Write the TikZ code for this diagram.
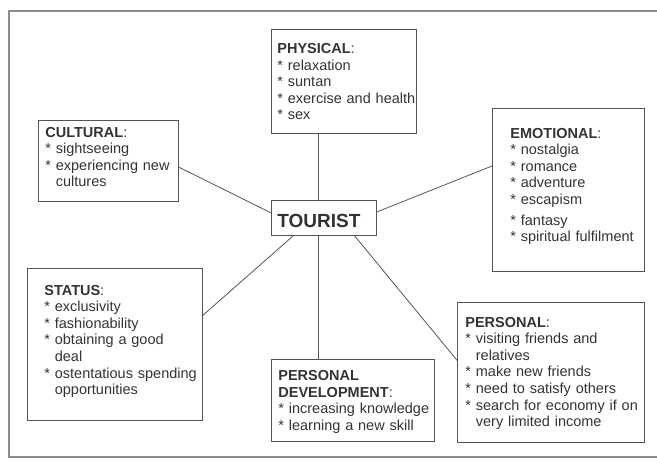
\documentclass[tikz,border=0pt]{standalone}
\usepackage{fontspec}
\setmainfont{Liberation Sans}
\usepackage{xcolor}
\usetikzlibrary{calc}

\definecolor{inkgray}{gray}{0.2}
\definecolor{linegray}{gray}{0.33}
\definecolor{framegray}{gray}{0.55}
\newcommand{\itm}[1]{\mbox{*\ #1}}
\newcommand{\cont}[1]{\mbox{\hphantom{*\ }#1}}

\begin{document}
\begin{tikzpicture}[x=1pt, y=-1pt,
    box/.style={draw=linegray, line width=0.8pt, anchor=north west, inner ysep=0pt, align=left, text=inkgray, font=\fontsize{14.5}{16.6}\selectfont},
    link/.style={draw=linegray, line width=0.8pt}]
    \useasboundingbox (0,0) rectangle (657,461);
    \draw [framegray, line width=1.5pt] (657,11) -| (9,457) -- (657,457);

    \node [box, inner xsep=6pt, text width=93pt, text height=26.7pt, text depth=8.3pt, font=\fontsize{19}{22}\selectfont\bfseries] (tourist) at (271,200) {TOURIST};
    \node [box, inner xsep=6pt, text width=133pt, text height=24pt, text depth=80pt] (phys) at (271,29) {\textbf{PHYSICAL}:\\\itm{relaxation}\\\itm{suntan}\\\itm{exercise and health}\\\itm{sex}};
    \node [box, inner xsep=7pt, text width=126pt, text height=16.7pt, text depth=64.3pt] (cult) at (38,120) {\textbf{CULTURAL}:\\\itm{sightseeing}\\\itm{experiencing new}\\\cont{cultures}};
    \node [box, inner xsep=18pt, text width=116pt, text height=29.7pt, text depth=133.3pt] (emo) at (492,108) {\textbf{EMOTIONAL}:\\\itm{nostalgia}\\\itm{romance}\\\itm{adventure}\\\itm{escapism}\\[4pt]\itm{fantasy}\\\itm{spiritual fulfilment}};
    \node [box, inner xsep=17pt, text width=141pt, text height=26.7pt, text depth=125.3pt] (stat) at (27,268) {\textbf{STATUS}:\\\itm{exclusivity}\\\itm{fashionability}\\\itm{obtaining a good}\\\cont{deal}\\\itm{ostentatious spending}\\\cont{opportunities}};
    \node [box, inner xsep=7pt, text width=149pt, text height=21pt, text depth=61pt] (pdev) at (271,359) {\textbf{PERSONAL}\\\textbf{DEVELOPMENT}:\\\itm{increasing knowledge}\\\itm{learning a new skill}};
    \node [box, inner xsep=8pt, text width=171pt, text height=24.7pt, text depth=115.3pt] (pers) at (457,302) {\textbf{PERSONAL}:\\\itm{visiting friends and}\\\cont{relatives}\\\itm{make new friends}\\\itm{need to satisfy others}\\\itm{search for economy if on}\\\cont{very limited income}};

    \coordinate (tn) at ($(tourist.north west)!0.445!(tourist.north east)$);
    \coordinate (ts) at ($(tourist.south west)!0.445!(tourist.south east)$);
    \draw [link] (tn) -- (tn |- phys.south);
    \draw [link] (ts) -- (ts |- pdev.north);
    \draw [link] ($(cult.north east)!0.576!(cult.south east)$) -- ($(tourist.north west)!0.36!(tourist.south west)$);
    \draw [link] ($(tourist.north east)!0.334!(tourist.south east)$) -- ($(emo.north west)!0.354!(emo.south west)$);
    \draw [link] ($(tourist.south west)!0.21!(tourist.south east)$) -- ($(stat.north east)!0.31!(stat.south east)$);
    \draw [link] ($(tourist.south west)!0.79!(tourist.south east)$) -- ($(pers.north west)!0.414!(pers.south west)$);
\end{tikzpicture}
\end{document}
